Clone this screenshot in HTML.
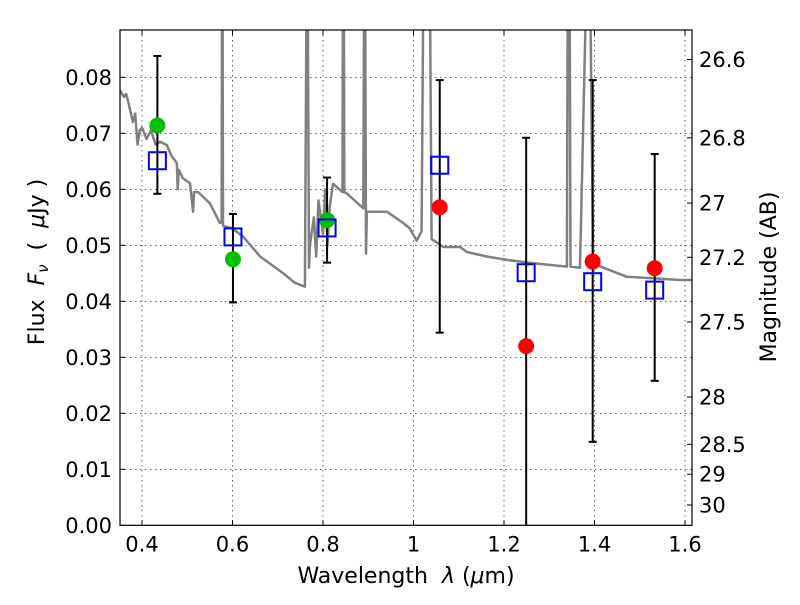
<!DOCTYPE html>
<html><head><meta charset="utf-8"><style>
body{margin:0;background:#fff;}
svg text{font-family:"DejaVu Sans","Liberation Sans",sans-serif;fill:#000;white-space:pre;}
</style></head><body>
<svg id="chart" width="800" height="600" xmlns="http://www.w3.org/2000/svg"></svg>
<script>
const specWl=[0.351,0.36,0.365,0.37,0.38,0.385,0.39,0.395,0.40,0.41,0.42,0.43,0.44,0.455,0.465,0.477,0.479,0.481,0.49,0.506,0.513,0.515,0.524,0.55,0.572,0.576,0.577,0.578,0.579,0.60,0.624,0.661,0.712,0.738,0.760,0.764,0.766,0.769,0.771,0.78,0.785,0.79,0.80,0.805,0.81,0.815,0.822,0.843,0.844,0.846,0.847,0.852,0.87,0.889,0.891,0.893,0.895,0.897,0.911,0.941,0.977,0.992,1.007,1.018,1.022,1.036,1.040,1.066,1.103,1.118,1.162,1.206,1.265,1.339,1.341,1.345,1.347,1.368,1.383,1.39,1.397,1.42,1.471,1.530,1.589,1.615];
const specFlux=[0.0777,0.0765,0.077,0.0755,0.072,0.0735,0.068,0.0705,0.071,0.069,0.0705,0.068,0.0685,0.0679,0.066,0.0647,0.060,0.0635,0.062,0.0611,0.056,0.0595,0.0595,0.0575,0.054,0.054,0.1,0.1,0.0535,0.053,0.0515,0.048,0.045,0.0433,0.0426,0.1,0.1,0.046,0.050,0.055,0.048,0.058,0.052,0.060,0.050,0.057,0.061,0.0595,0.1,0.1,0.0595,0.0593,0.058,0.0566,0.1,0.1,0.0485,0.056,0.056,0.0560,0.054,0.053,0.0508,0.0525,0.1,0.1,0.0511,0.0497,0.0497,0.0488,0.048,0.0474,0.0468,0.0462,0.1,0.1,0.0462,0.046,0.1,0.1,0.0468,0.046,0.0444,0.0441,0.0438,0.0438];
const bandWl=[0.434,0.601,0.809,1.058,1.249,1.396,1.533];
const modelFlux=[0.0651,0.0515,0.0531,0.0643,0.0451,0.0435,0.042];
const obsFlux=[0.0714,0.0475,0.0545,0.0568,0.032,0.0471,0.0459];
const obsColor=['#00c000','#00c000','#00c000','#ff0000','#ff0000','#ff0000','#ff0000'];
const errTop=[0.0838,0.0556,0.0621,0.0795,0.0692,0.0795,0.0663];
const errBot=[0.0592,0.0398,0.0469,0.0344,-0.01,0.0149,0.0258];
const xTicks=[0.4,0.6,0.8,1.0,1.2,1.4,1.6];
const xTickLabels=['0.4','0.6','0.8','1','1.2','1.4','1.6'];
const yTicks=[0,0.01,0.02,0.03,0.04,0.05,0.06,0.07,0.08];
const magTicks=[26.6,26.8,27,27.2,27.5,28,28.5,29,30];

const L=120,R=692,T=30,B=525.3;
const X=v=>142+(v-0.4)*452.5;
const Y=f=>B-f*5600;
const magToFlux=m=>Math.pow(10,(23.9-m)/2.5);
const svg=document.getElementById('chart');
const NS='http://www.w3.org/2000/svg';
function mk(tag,attrs,parent){const e=document.createElementNS(NS,tag);for(const k in attrs)e.setAttribute(k,attrs[k]);(parent||svg).appendChild(e);return e;}

const defs=mk('defs',{});
const cp=mk('clipPath',{id:'clip'},defs);
mk('rect',{x:L,y:T,width:R-L,height:B-T},cp);

xTicks.forEach(v=>{const g=mk('line',{x1:X(v),x2:X(v),y1:T,y2:B,stroke:'#000','stroke-width':0.6,'stroke-dasharray':'1.5,3.5'});

});
yTicks.forEach(v=>{const g=mk('line',{x1:L,x2:R,y1:Y(v),y2:Y(v),stroke:'#000','stroke-width':0.6,'stroke-dasharray':'1.5,3.5'});

});

const plot=mk('g',{'clip-path':'url(#clip)'});


const pts=specWl.map((w,i)=>X(w).toFixed(1)+','+Y(specFlux[i]).toFixed(1)).join(' ');
const sp=mk('polyline',{points:pts,fill:'none',stroke:'#808080','stroke-width':2.5,'stroke-linejoin':'round'},plot);



bandWl.forEach((w,i)=>{
  const x=X(w);
  const eb=mk('g',{},plot);
  
  
  mk('line',{x1:x,x2:x,y1:Y(errTop[i]),y2:Y(errBot[i]),stroke:'#000','stroke-width':2},eb);
  mk('line',{x1:x-4,x2:x+4,y1:Y(errTop[i]),y2:Y(errTop[i]),stroke:'#000','stroke-width':2},eb);
  mk('line',{x1:x-4,x2:x+4,y1:Y(errBot[i]),y2:Y(errBot[i]),stroke:'#000','stroke-width':2},eb);
});
bandWl.forEach((w,i)=>{
  const c=mk('circle',{cx:X(w),cy:Y(obsFlux[i]),r:8,fill:obsColor[i]},plot);
  
  
});
bandWl.forEach((w,i)=>{
  const s=mk('rect',{x:X(w)-8.5,y:Y(modelFlux[i])-8.5,width:17,height:17,fill:'none',stroke:'#0000ff','stroke-width':2},plot);
  
  
});

xTicks.forEach((v,i)=>{
  mk('line',{x1:X(v),x2:X(v),y1:B,y2:B-5,stroke:'#000'});
  mk('line',{x1:X(v),x2:X(v),y1:T,y2:T+5,stroke:'#000'});
  const t=mk('text',{x:X(v),y:B+26,'text-anchor':'middle','font-size':21});
  t.textContent=xTickLabels[i];
  
  
});
yTicks.forEach(v=>{
  mk('line',{x1:L,x2:L+5,y1:Y(v),y2:Y(v),stroke:'#000'});
  const t=mk('text',{x:112,y:Y(v)+7.5,'text-anchor':'end','font-size':21});
  t.textContent=v.toFixed(2);
  
  
});
magTicks.forEach(m=>{
  const y=Y(magToFlux(m));
  mk('line',{x1:R,x2:R-5,y1:y,y2:y,stroke:'#000'});
  const t=mk('text',{x:699,y:y+7.5,'font-size':21});
  t.textContent=String(m);
  
  
});
const fr=mk('rect',{x:L,y:T,width:R-L,height:B-T,fill:'none',stroke:'#000','stroke-width':1.2});



const xl=mk('text',{x:406,y:583,'text-anchor':'middle','font-size':22});
xl.innerHTML='Wavelength  <tspan font-style="italic">λ</tspan> (<tspan font-style="italic">μ</tspan>m)';


const yl=mk('text',{x:0,y:0,'text-anchor':'middle','font-size':22,transform:'translate(44,262) rotate(-90)'});
yl.innerHTML='Flux  <tspan font-style="italic">F</tspan><tspan font-style="italic" font-size="15" dy="4">ν</tspan><tspan dy="-4">  (  </tspan><tspan font-style="italic">μ</tspan>Jy )';


const rl=mk('text',{x:0,y:0,'text-anchor':'middle','font-size':22,transform:'translate(776,277) rotate(-90)'});
rl.textContent='Magnitude (AB)';


</script>
</body></html>
